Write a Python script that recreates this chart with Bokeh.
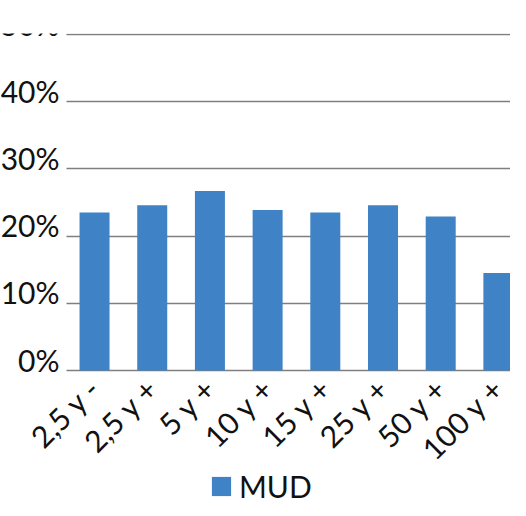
import numpy as np
from bokeh.plotting import figure
from bokeh.models import Range1d, FixedTicker, Legend, LegendItem, ColumnDataSource
from bokeh.embed import file_html
from bokeh.resources import INLINE

categories = ["2,5 y -", "2,5 y +", "5 y +", "10 y +", "15 y +", "25 y +", "50 y +", "100 y +"]
mud = [23.5, 24.6, 26.7, 23.9, 23.5, 24.6, 22.9, 14.5]
y_ticks = [0, 10, 20, 30, 40, 50]
y_labels = ["0%", "10%", "20%", "30%", "40%", "50%"]
series_name = "MUD"

FONT = "Lato"
BAR = "#3F83C6"
TXT = "#111111"

X_START, X_END, Y_AXIS_AT = -1.63, 7.21, -0.485

xpos = list(range(len(categories)))
src = ColumnDataSource(dict(x=xpos, top=mud))

p = figure(width=510, height=500,
           output_backend="svg", toolbar_location=None,
           x_range=Range1d(X_START, X_END), y_range=Range1d(-19.35, 50.15),
           min_border_left=0, min_border_right=0, min_border_top=33, min_border_bottom=0)
p.outline_line_color = None
p.background_fill_color = None
p.border_fill_color = None

r = p.vbar(x="x", top="top", width=0.52, bottom=0, source=src, fill_color=BAR, line_color=None)

p.xgrid.visible = False
p.ygrid.grid_line_color = "#7F7F7F"
p.ygrid.grid_line_width = 1.5
g = p.ygrid[0]
if "cross_bounds" in g.properties():
    g.cross_bounds = (Y_AXIS_AT, X_END)

p.yaxis.ticker = FixedTicker(ticks=y_ticks)
p.yaxis.major_label_overrides = {t: l + "\n" for t, l in zip(y_ticks, y_labels)}
p.yaxis.major_label_text_line_height = 0.6
p.yaxis.fixed_location = Y_AXIS_AT
p.xaxis.ticker = FixedTicker(ticks=xpos)
p.xaxis.major_label_overrides = {i: c for i, c in zip(xpos, categories)}
p.xaxis.major_label_orientation = np.pi / 4
p.xaxis.fixed_location = 0

for ax in (p.xaxis, p.yaxis):
    ax.axis_line_color = None
    ax.major_tick_line_color = None
    ax.minor_tick_line_color = None
    ax.major_tick_in = 0
    ax.major_tick_out = 0
    ax.major_label_text_font = FONT
    ax.major_label_text_font_size = "30px"
    ax.major_label_text_color = TXT
p.yaxis.major_label_standoff = 7
p.xaxis.major_label_standoff = 12

legend = Legend(items=[LegendItem(label=series_name, renderers=[r])],
                location=(209, -4), orientation="horizontal",
                label_text_font=FONT, label_text_font_size="30px", label_text_color=TXT,
                glyph_width=24, glyph_height=24, label_standoff=6,
                border_line_color=None, background_fill_color=None,
                padding=0, margin=0)
p.add_layout(legend, "center")

open("out.html", "w").write(file_html(p, INLINE))
